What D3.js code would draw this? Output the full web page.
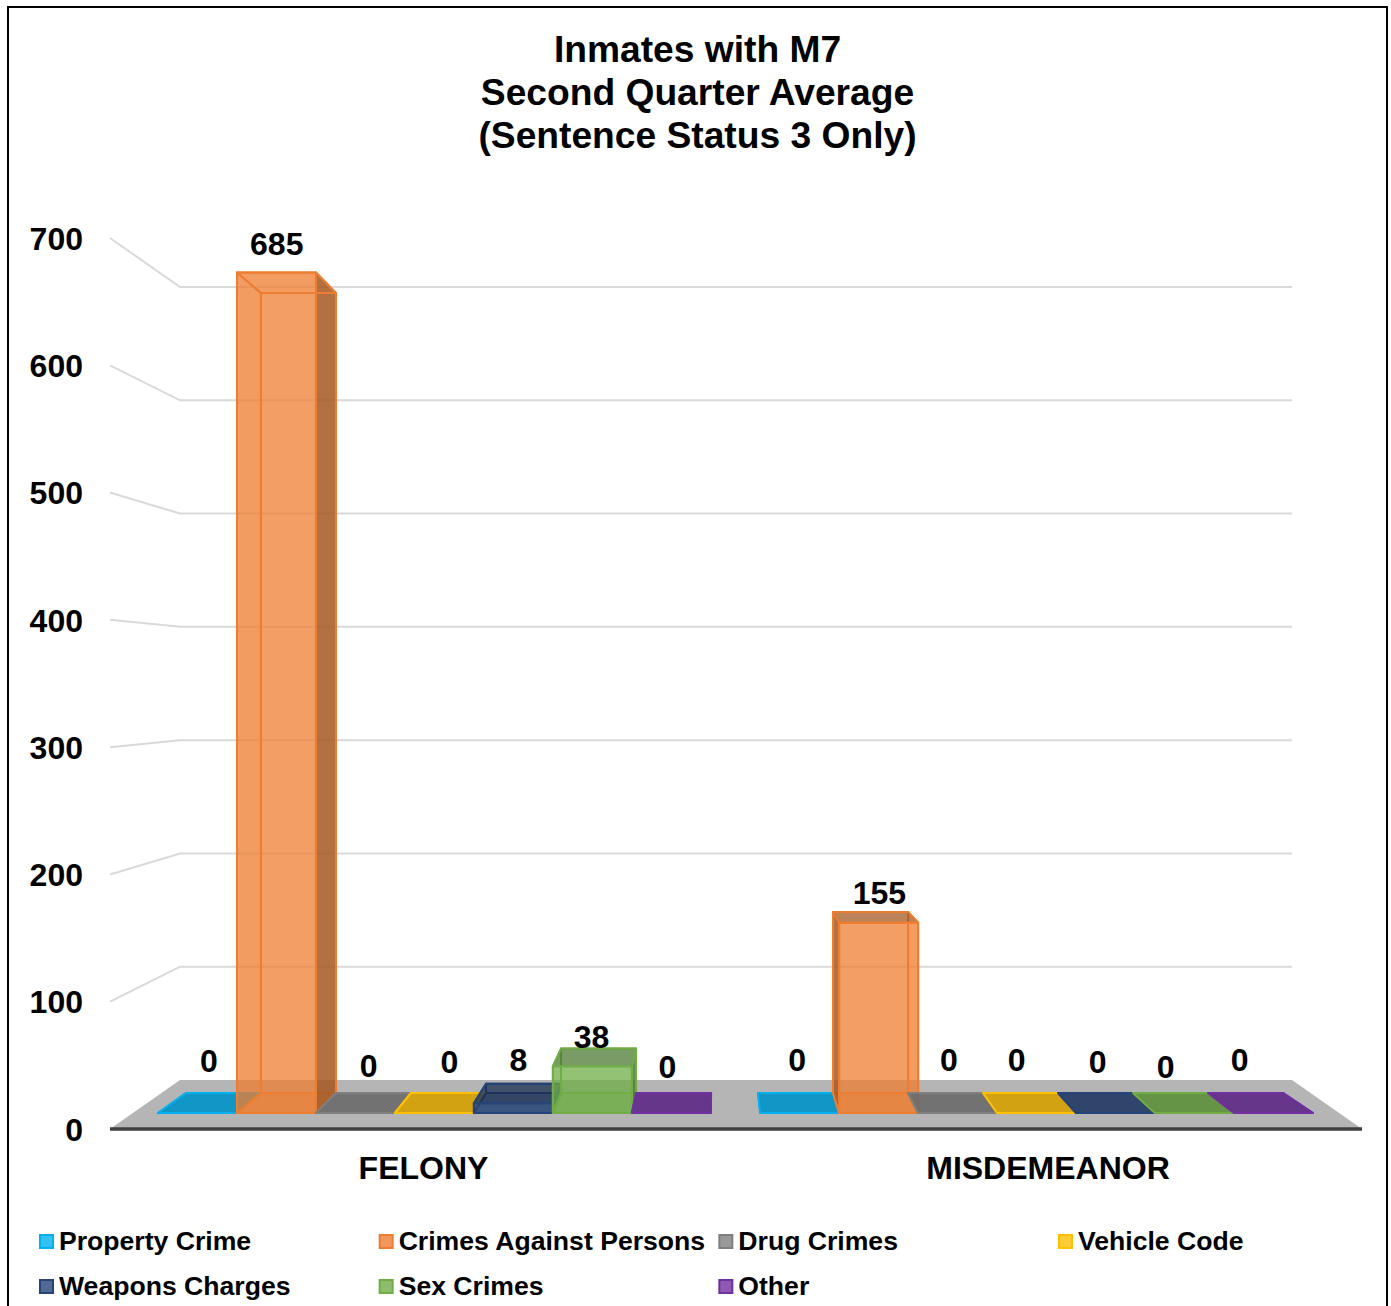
<!DOCTYPE html>
<html>
<head>
<meta charset="utf-8">
<script src="https://cdn.jsdelivr.net/npm/d3@7"></script>
<style>
html,body{margin:0;padding:0;background:#fff;}
svg{display:block;}
text{font-family:"Liberation Sans",Arial,sans-serif;font-weight:bold;fill:#000;}
</style>
</head>
<body>
<svg id="chart" width="1391" height="1306"></svg>
<script>
const titleLines = ["Inmates with M7", "Second Quarter Average", "(Sentence Status 3 Only)"];
const categories = ["FELONY", "MISDEMEANOR"];
const seriesNames = ["Property Crime", "Crimes Against Persons", "Drug Crimes", "Vehicle Code", "Weapons Charges", "Sex Crimes", "Other"];
const felonyValues = [0, 685, 0, 0, 8, 38, 0];
const misdemeanorValues = [0, 155, 0, 0, 0, 0, 0];
const seriesColors = ["#00b0f0", "#ed7d31", "#7f7f7f", "#ffc000", "#264478", "#70ad47", "#7030a0"];
const yTicks = [0, 100, 200, 300, 400, 500, 600, 700];
// Hand placement of the value labels, as in the source chart
const labelNudgeX = [[-1.5, -10.7, 4.2, 8, 0, -4, -5], [-0.5, 4.8, -2.8, -11.9, -8, -17, -20]];
const labelNudgeY = [[-32, -28, -27, -31, -24, -12, -26], [-33, -19, -33, -33, -31, -26, -33]];

const valuesByCategory = [felonyValues, misdemeanorValues];
const svg = d3.select("#chart");

// Frame (runs off the bottom of the picture)
svg.append("rect").attr("x", 8).attr("y", 7).attr("width", 1379).attr("height", 1330)
  .attr("fill", "#fff").attr("stroke", "#000").attr("stroke-width", 2);

// Title
svg.append("g").selectAll("text").data(titleLines).join("text")
  .attr("x", 697.5).attr("y", (d, i) => 49 + i * 43)
  .attr("text-anchor", "middle").attr("dominant-baseline", "central")
  .attr("font-size", 37.2).text(d => d);

// Scales
const yWallFront = d3.scaleLinear().domain([0, 700]).range([1129, 238]);
const yWallBack = d3.scaleLinear().domain([0, 700]).range([1080, 287]);
const yBarFront = d3.scaleLinear().domain([0, 700]).range([1113, 254]);
const yBarBack = d3.scaleLinear().domain([0, 700]).range([1093, 275.4]);
const x0 = d3.scaleBand().domain(categories).range([158, 1313]).paddingInner(0.082);
const x1 = d3.scaleBand().domain(seriesNames).range([0, x0.bandwidth()]);
const xDepth = d3.scaleLinear().domain([158, 1313]).range([185.9, 1283.2]);

// Floor
svg.append("polygon")
  .attr("points", [[110, yWallFront(0)], [180, yWallBack(0)], [1292, yWallBack(0)], [1362, yWallFront(0)]].join(" "))
  .attr("fill", "#b5b5b5");

// Gridlines on the back and side walls
const grid = svg.append("g").attr("fill", "none").attr("stroke", "#d9d9d9").attr("stroke-width", 2);
grid.selectAll("polyline").data(yTicks.filter(d => d > 0)).join("polyline")
  .attr("points", d => [[110, yWallFront(d)], [180, yWallBack(d)], [1292, yWallBack(d)]].join(" "));

// Base line of the floor
svg.append("line").attr("x1", 110).attr("x2", 1362)
  .attr("y1", yWallFront(0)).attr("y2", yWallFront(0))
  .attr("stroke", "#404040").attr("stroke-width", 3.5);

// Y axis labels
const axis = svg.append("g").attr("transform", "translate(83,1)")
  .call(d3.axisLeft(yWallFront).tickValues(yTicks).tickSize(0).tickPadding(0).tickFormat(d3.format("d")));
axis.select(".domain").remove();
axis.attr("font-family", null);
axis.selectAll("text").attr("font-size", 32);

// Category labels
svg.append("g").selectAll("text").data(categories).join("text")
  .attr("x", (d, i) => [423.5, 1048][i]).attr("y", 1168)
  .attr("text-anchor", "middle").attr("dominant-baseline", "central")
  .attr("font-size", 32).text(d => d);

// Bars
const face = (g, pts, fill, op, stroke) => g.append("polygon")
  .attr("points", pts.join(" ")).attr("fill", fill).attr("fill-opacity", op)
  .attr("stroke", stroke).attr("stroke-width", 2).attr("stroke-linejoin", "round");

categories.forEach((cat, c) => {
  const vals = valuesByCategory[c];
  seriesNames.forEach((name, s) => {
    const v = vals[s], col = seriesColors[s];
    const dark = d3.color(col).darker(1).formatHex();
    const fl = x0(cat) + x1(name), fr = fl + x1.bandwidth();
    const bl = xDepth(fl), br = xDepth(fr);
    const fb = yBarFront(0), bb = yBarBack(0), ft = yBarFront(v), bt = yBarBack(v);
    const g = svg.append("g");
    // floor of the box
    face(g, [[fl, fb], [fr, fb], [br, bb], [bl, bb]], col, v > 0 ? 0.4 : 0.8, col);
    if (v > 0) {
      // back edges
      face(g, [[bl, bt], [br, bt], [br, bb], [bl, bb]], "none", 0, col);
      // sides: the one that sticks out beyond the front face is seen from outside
      const leftOuter = bl < fl, rightOuter = br > fr;
      face(g, [[fl, ft], [bl, bt], [bl, bb], [fl, fb]], leftOuter ? dark : col, leftOuter ? 0.85 : 0.05, col);
      face(g, [[fr, ft], [br, bt], [br, bb], [fr, fb]], rightOuter ? dark : col, rightOuter ? 0.85 : 0.05, col);
    }
    // top of the box
    const topOuter = bt < ft;
    face(g, [[fl, ft], [fr, ft], [br, bt], [bl, bt]], topOuter ? dark : col, topOuter ? (v > 0 ? 0.75 : 0.5) : 0.05, col);
    if (v > 0) face(g, [[fl, ft], [fr, ft], [fr, fb], [fl, fb]], col, 0.75, col);
  });
});

// Value labels
categories.forEach((cat, c) => {
  valuesByCategory[c].forEach((v, s) => {
    const fc = x0(cat) + x1(seriesNames[s]) + x1.bandwidth() / 2;
    svg.append("text")
      .attr("x", (fc + xDepth(fc)) / 2 + labelNudgeX[c][s])
      .attr("y", Math.min(yBarFront(v), yBarBack(v)) + labelNudgeY[c][s])
      .attr("text-anchor", "middle").attr("dominant-baseline", "central")
      .attr("font-size", 32).text(v);
  });
});

// Legend
const legendX = d3.scalePoint().domain([0, 1, 2, 3]).range([39, 1058]);
const legendY = d3.scalePoint().domain([0, 1]).range([1241, 1286]);
const item = svg.append("g").selectAll("g").data(seriesNames).join("g")
  .attr("transform", (d, i) => `translate(${legendX(i % 4)},${legendY(Math.floor(i / 4))})`);
item.append("rect").attr("x", 1).attr("y", -6).attr("width", 13).attr("height", 13)
  .attr("fill", (d, i) => seriesColors[i]).attr("fill-opacity", 0.8)
  .attr("stroke", (d, i) => seriesColors[i]).attr("stroke-width", 2);
item.append("text").attr("x", 20).attr("dominant-baseline", "central")
  .attr("font-size", 26.6).text(d => d);
</script>
</body>
</html>
